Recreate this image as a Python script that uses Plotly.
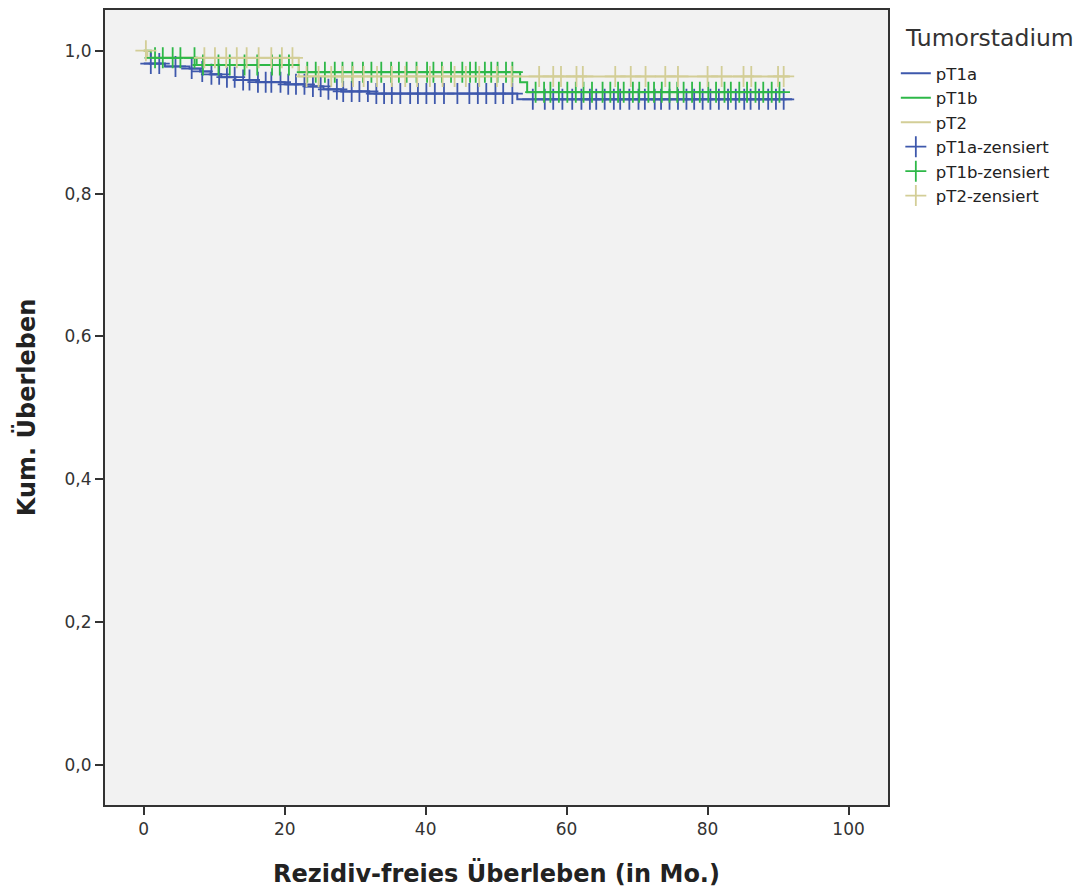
import plotly.graph_objects as go

# ---- data ----
groups = ["pT1a", "pT1b", "pT2"]
legend_title = "Tumorstadium"

t1a_times = [0, 0.5, 3, 6.5, 8, 9.5, 11, 13, 16, 20, 23, 25.5, 28, 32, 53, 92]
t1a_surv = [0.982, 0.982, 0.978, 0.975, 0.971, 0.967, 0.963, 0.959, 0.956, 0.953, 0.950, 0.946, 0.943, 0.940, 0.932, 0.932]
t1a_cens = [1, 2.2, 4.5, 6.8, 8.3, 9.6, 10.7, 11.8, 12.9, 14.1, 15, 16.2, 17.3, 18.1, 19.4, 20.5, 21.6,
            22.8, 24, 25.1, 26.2, 27.4, 28.3, 29.5, 30.6, 31.8, 33, 34.1, 35.2, 36.4, 37.8, 38.9, 40.1,
            41.3, 42.6, 44.5, 46.2, 47.4, 48.6, 49.9, 51, 52.3, 55.2, 56.9, 58.1, 59.4, 60.8, 62.1,
            63.3, 64.2, 65.4, 66.7, 67.6, 68.9, 70.2, 71.1, 72.5, 73.4, 74.6, 75.8, 77, 78.1, 79.3,
            80.4, 81.6, 82.9, 84, 85.2, 86.1, 87.3, 88.6, 89.7, 90.8]

t1b_times = [0, 1, 7.5, 22, 53.4, 54.4, 91]
t1b_surv = [1.0, 0.990, 0.980, 0.970, 0.956, 0.942, 0.942]
t1b_cens = [1.6, 2.7, 4.1, 5.2, 7.2, 8.4, 10.6, 12.2, 14.3, 16.1, 18.2, 19.3, 20.6, 23.2, 24.4, 25.7,
            27.1, 28.2, 29.6, 31.1, 32.3, 33.7, 35.1, 36.2, 37.3, 38.7, 40.2, 41.1, 42.3, 43.6, 45.2,
            46.3, 47.1, 48.4, 49.3, 50.2, 51.4, 52.3, 55.6, 56.8, 57.7, 58.9, 60.1, 61.3, 62.4, 63.6,
            65.1, 66.2, 67.3, 68.1, 69.4, 70.3, 71.6, 72.4, 73.5, 74.6, 75.7, 76.6, 77.8, 78.9, 80.1,
            81.2, 82.4, 83.3, 84.5, 85.6, 86.8, 87.9, 89.1, 90.2]

t2_times = [0, 0.5, 22, 91.7]
t2_surv = [1.0, 0.990, 0.964, 0.964]
t2_cens = [0.3, 8.6, 10.1, 11.7, 13.2, 14.6, 16.3, 18.1, 19.6, 21.1, 23.1, 24.8, 26.6, 28.2, 29.7,
           31.2, 33.1, 35.2, 37.1, 38.8, 40.6, 42.4, 44.1, 45.7, 47.6, 50.1, 52.2, 56.1, 58.1, 59.2,
           61.4, 62.3, 66.9, 69.1, 71.2, 74.0, 75.8, 80.0, 82.0, 85.1, 86.2, 90.0, 90.8]

colors = ["#3E58AC", "#2EB848", "#D3CE97"]


def step_value(times, surv, t):
    v = surv[0]
    for ti, si in zip(times, surv):
        if ti <= t:
            v = si
    return v


fig = go.Figure()
series = [(t1a_times, t1a_surv, t1a_cens), (t1b_times, t1b_surv, t1b_cens), (t2_times, t2_surv, t2_cens)]

for name, (tt, ss, cc), col in zip(groups, series, colors):
    fig.add_trace(go.Scatter(x=tt, y=ss, mode="lines", line=dict(color=col, width=2, shape="hv"),
                             name=name))

for name, (tt, ss, cc), col in zip(groups, series, colors):
    fig.add_trace(go.Scatter(x=cc, y=[step_value(tt, ss, c) for c in cc], mode="markers",
                             marker=dict(symbol="cross-thin", size=15, line=dict(color=col, width=1.8)),
                             name=name + "-zensiert"))

font_family = "DejaVu Sans"
# page body has an 8px margin: figure is sized/offset so the plot lands where the reference has it
fig.update_layout(
    width=1078, height=881,
    margin=dict(l=97, r=198, t=2, b=84),
    paper_bgcolor="white",
    plot_bgcolor="#F2F2F2",
    separators=",.",
    font=dict(family=font_family, color="#333333"),
    showlegend=True,
    legend=dict(
        x=1.01, y=0.942, xanchor="left", yanchor="top",
        font=dict(size=16.5, color="#222222"),
        itemwidth=30, tracegroupgap=0, traceorder="normal",
        bgcolor="rgba(0,0,0,0)",
    ),
    annotations=[dict(text=legend_title, xref="paper", yref="paper", x=1.13, y=0.965,
                      xanchor="center", yanchor="middle", showarrow=False,
                      font=dict(size=23.5, color="#333333"))],
    xaxis=dict(
        range=[-5.5, 105.6], tickvals=[0, 20, 40, 60, 80, 100],
        ticks="outside", ticklen=8, tickwidth=2, tickcolor="#333333",
        showline=True, linecolor="#333333", linewidth=2, mirror=True,
        showgrid=False, zeroline=False, automargin=False,
        tickfont=dict(size=17, color="#333333"),
        title=dict(text="<b>Rezidiv-freies Überleben (in Mo.)</b>", font=dict(size=24, color="#222222"), standoff=27),
    ),
    yaxis=dict(
        range=[-0.056, 1.057], tickvals=[0, 0.2, 0.4, 0.6, 0.8, 1.0], tickformat=".1f",
        ticks="outside", ticklen=8, tickwidth=2, tickcolor="#333333",
        showline=True, linecolor="#333333", linewidth=2, mirror=True,
        showgrid=False, zeroline=False, automargin=False,
        tickfont=dict(size=17, color="#333333"),
        title=dict(text="<b>Kum. Überleben</b>", font=dict(size=24, color="#222222"), standoff=22),
    ),
)

fig.write_html("out.html")
